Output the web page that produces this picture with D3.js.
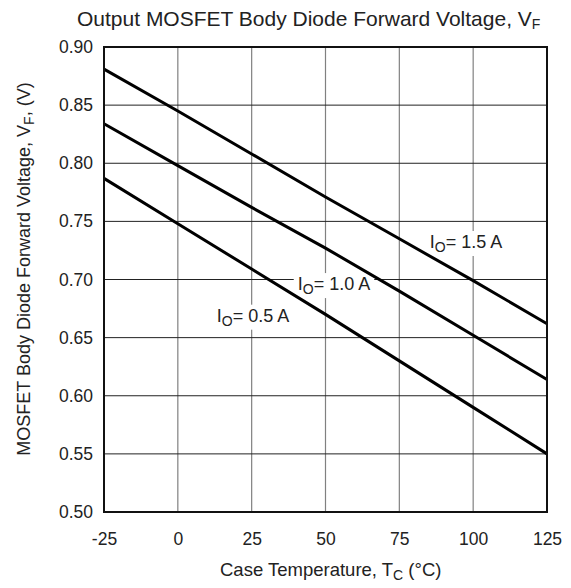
<!DOCTYPE html>
<html>
<head>
<meta charset="utf-8">
<script src="https://cdn.jsdelivr.net/npm/d3@7"></script>
<style>
body { margin: 0; background: #fff; }
text { font-family: "Liberation Sans", Arial, sans-serif; fill: #222; }
</style>
</head>
<body>
<div id="chart"></div>
<script>
// data
var temps = [-25, 0, 25, 50, 75, 100, 125]
var vf15 = [0.881, 0.845, 0.808, 0.771, 0.735, 0.699, 0.662]
var vf10 = [0.834, 0.798, 0.762, 0.727, 0.690, 0.652, 0.614]
var vf05 = [0.787, 0.748, 0.709, 0.670, 0.630, 0.590, 0.550]
var seriesNames = ["1.5 A", "1.0 A", "0.5 A"]
var xTicks = [-25, 0, 25, 50, 75, 100, 125]
var yTicks = [0.50, 0.55, 0.60, 0.65, 0.70, 0.75, 0.80, 0.85, 0.90]
// label anchors in data units (temperature, voltage at baseline)
var labelAt = [[85.3, 0.7271], [40.6, 0.6909], [13.2, 0.6637]]

var w = 571, h = 588
var m = {left: 104, right: 24, top: 47, bottom: 76}
var font = "Liberation Sans, Arial, sans-serif"

var svg = d3.select("#chart")
	.append("svg")
	.attr("width", w)
	.attr("height", h)

var x = d3.scaleLinear().domain([-25, 125]).range([m.left, w - m.right])
var y = d3.scaleLinear().domain([0.5, 0.9]).range([h - m.bottom, m.top])

var gridG = svg.append("g")
var boxG = svg.append("g")
var curveG = svg.append("g")
var labelG = svg.append("g")

// grid
gridG.append("g")
	.selectAll("line")
	.data(xTicks.slice(1, -1))
	.join("line")
	.attr("x1", d => x(d)).attr("x2", d => x(d))
	.attr("y1", y(0.9)).attr("y2", y(0.5))
	.attr("stroke", "#808080").attr("stroke-width", 1.2)

gridG.append("g")
	.selectAll("line")
	.data(yTicks.slice(1, -1))
	.join("line")
	.attr("x1", x(-25)).attr("x2", x(125))
	.attr("y1", d => y(d)).attr("y2", d => y(d))
	.attr("stroke", "#222").attr("stroke-width", 1)

// curves
var line = d3.line().x((d, i) => x(temps[i])).y(d => y(d))
var series = [vf15, vf10, vf05]

curveG.selectAll("path")
	.data(series)
	.join("path")
	.attr("d", line)
	.attr("fill", "none")
	.attr("stroke", "#000")
	.attr("stroke-width", 3)

// labels, with white boxes that cut the grid but not the curves
var lt = labelG.selectAll("text")
	.data(seriesNames)
	.join("text")
	.attr("x", (d, i) => x(labelAt[i][0]))
	.attr("y", (d, i) => y(labelAt[i][1]))
	.attr("font-size", 18)
lt.append("tspan").text("I")
lt.append("tspan").attr("font-size", 14).attr("dy", 4).text("O")
lt.append("tspan").attr("dy", -4).text(d => "= " + d)

lt.each(function() {
	var b = this.getBBox()
	boxG.append("rect")
		.attr("x", b.x - 4).attr("y", b.y - 1)
		.attr("width", b.width + 8).attr("height", b.height + 2)
		.attr("fill", "#fff")
})

// frame
svg.append("rect")
	.attr("x", x(-25)).attr("y", y(0.9))
	.attr("width", x(125) - x(-25)).attr("height", y(0.5) - y(0.9))
	.attr("fill", "none").attr("stroke", "#111").attr("stroke-width", 2)

// axes
var xAxis = d3.axisBottom(x).tickValues(xTicks).tickSize(0).tickPadding(21).tickFormat(d => String(d))
var yAxis = d3.axisLeft(y).tickValues(yTicks).tickSize(0).tickPadding(11).tickFormat(d3.format(".2f"))

svg.append("g")
	.attr("transform", "translate(0," + y(0.5) + ")")
	.call(xAxis)
	.call(g => g.select(".domain").remove())
	.selectAll("text").attr("font-size", 17.5).attr("fill", "#222")
	.style("font-family", font)

svg.append("g")
	.attr("transform", "translate(" + x(-25) + ",0)")
	.call(yAxis)
	.call(g => g.select(".domain").remove())
	.selectAll("text").attr("font-size", 17.5).attr("fill", "#222")
	.style("font-family", font)

// title
var t = svg.append("text")
	.attr("x", 77).attr("y", 26)
	.attr("font-size", 21)
t.append("tspan").text("Output MOSFET Body Diode Forward Voltage, V")
t.append("tspan").attr("font-size", 14).attr("dy", 3).text("F")

// x title
var xt = svg.append("text")
	.attr("x", 220).attr("y", 576)
	.attr("font-size", 18.5)
xt.append("tspan").text("Case Temperature, T")
xt.append("tspan").attr("font-size", 14).attr("dy", 4).text("C")
xt.append("tspan").attr("dy", -4).text(" (°C)")

// y title
var yt = svg.append("text")
	.attr("transform", "translate(30,269) rotate(-90)")
	.attr("text-anchor", "middle")
	.attr("font-size", 18)
yt.append("tspan").text("MOSFET Body Diode Forward Voltage, V")
yt.append("tspan").attr("font-size", 14).attr("dy", 4).text("F")
yt.append("tspan").attr("dy", -4).text(", (V)")
</script>
</body>
</html>
